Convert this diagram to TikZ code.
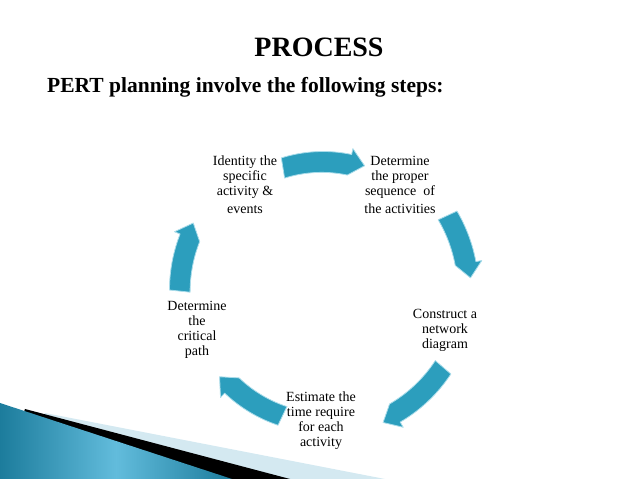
\documentclass[tikz,border=0pt]{standalone}
\usepackage{fontspec}
\setmainfont{Liberation Serif}

\definecolor{arrowfill}{RGB}{44,158,189}
\definecolor{arrowedge}{RGB}{170,220,234}
\definecolor{wedgedark}{RGB}{28,124,156}
\definecolor{wedgelight}{RGB}{98,188,220}
\definecolor{wedgepale}{RGB}{212,233,241}

\tikzset{
  steptext/.style={align=center, inner sep=0pt, font=\rmfamily\fontsize{14}{15}\selectfont},
  cyclearrowstyle/.style={fill=arrowfill, draw=arrowedge, line width=0.8pt, line join=round}
}

% curved block arrow round the centre: radius, tail angle, tip angle
\newcommand{\cyclearrow}[3]{%
  \pgfmathsetmacro\arrhead{859/#1}%
  \pgfmathsetmacro\arrbase{#3+sign(#2-#3)*\arrhead}%
  \path[cyclearrowstyle] (#2:#1+7.5) arc[start angle=#2, end angle=\arrbase, radius=#1+7.5]
    -- (\arrbase:#1+13.5) -- (#3:#1) -- (\arrbase:#1-13.5)
    arc[start angle=\arrbase, end angle=#2, radius=#1-7.5] -- cycle;}

\begin{document}
\begin{tikzpicture}[x=1pt, y=1pt]
\useasboundingbox (0,0) rectangle (638,479);

% corner decoration
\fill[wedgepale] (45,66) -- (385,0) -- (0,0) -- cycle;
\fill[black] (25,70) -- (290,0) -- (0,0) -- cycle;
\shade[left color=wedgedark, right color=wedgedark, middle color=wedgelight]
  (0,76) -- (232,0) -- (0,0) -- cycle;

\node[inner sep=0pt, anchor=base, font=\rmfamily\fontsize{28}{30}\selectfont\bfseries] (title) at (319,422) {PROCESS};
\node[inner sep=0pt, anchor=base west, font=\rmfamily\fontsize{21.5}{24}\selectfont\bfseries] (intro) at (47,386)
    {PERT planning involve the following steps:};

\node[steptext] (identify) at (245,294) {Identity the\\ specific\\ activity \&\\[3pt] events};
\node[steptext] (sequence) at (400,294) {Determine\\ the proper\\ sequence \ of\\[3pt] the activities};
\node[steptext] (network) at (445,149) {Construct a\\ network\\ diagram};
\node[steptext] (estimate) at (321,58) {Estimate the\\ time require\\ for each\\ activity};
\node[steptext] (critical) at (197,149) {Determine\\ the\\ critical\\ path};

% arrows of the cycle
\coordinate (cycle) at (323,189);
\begin{scope}[shift={(cycle)}]
\foreach \r/\a/\b in {131/107.5/71.5, 148/30.5/4.7, 145.5/-33.3/-65.6, 135/-108.4/-140, 146/180/152.7}
  \cyclearrow{\r}{\a}{\b};
\end{scope}
\end{tikzpicture}
\end{document}
